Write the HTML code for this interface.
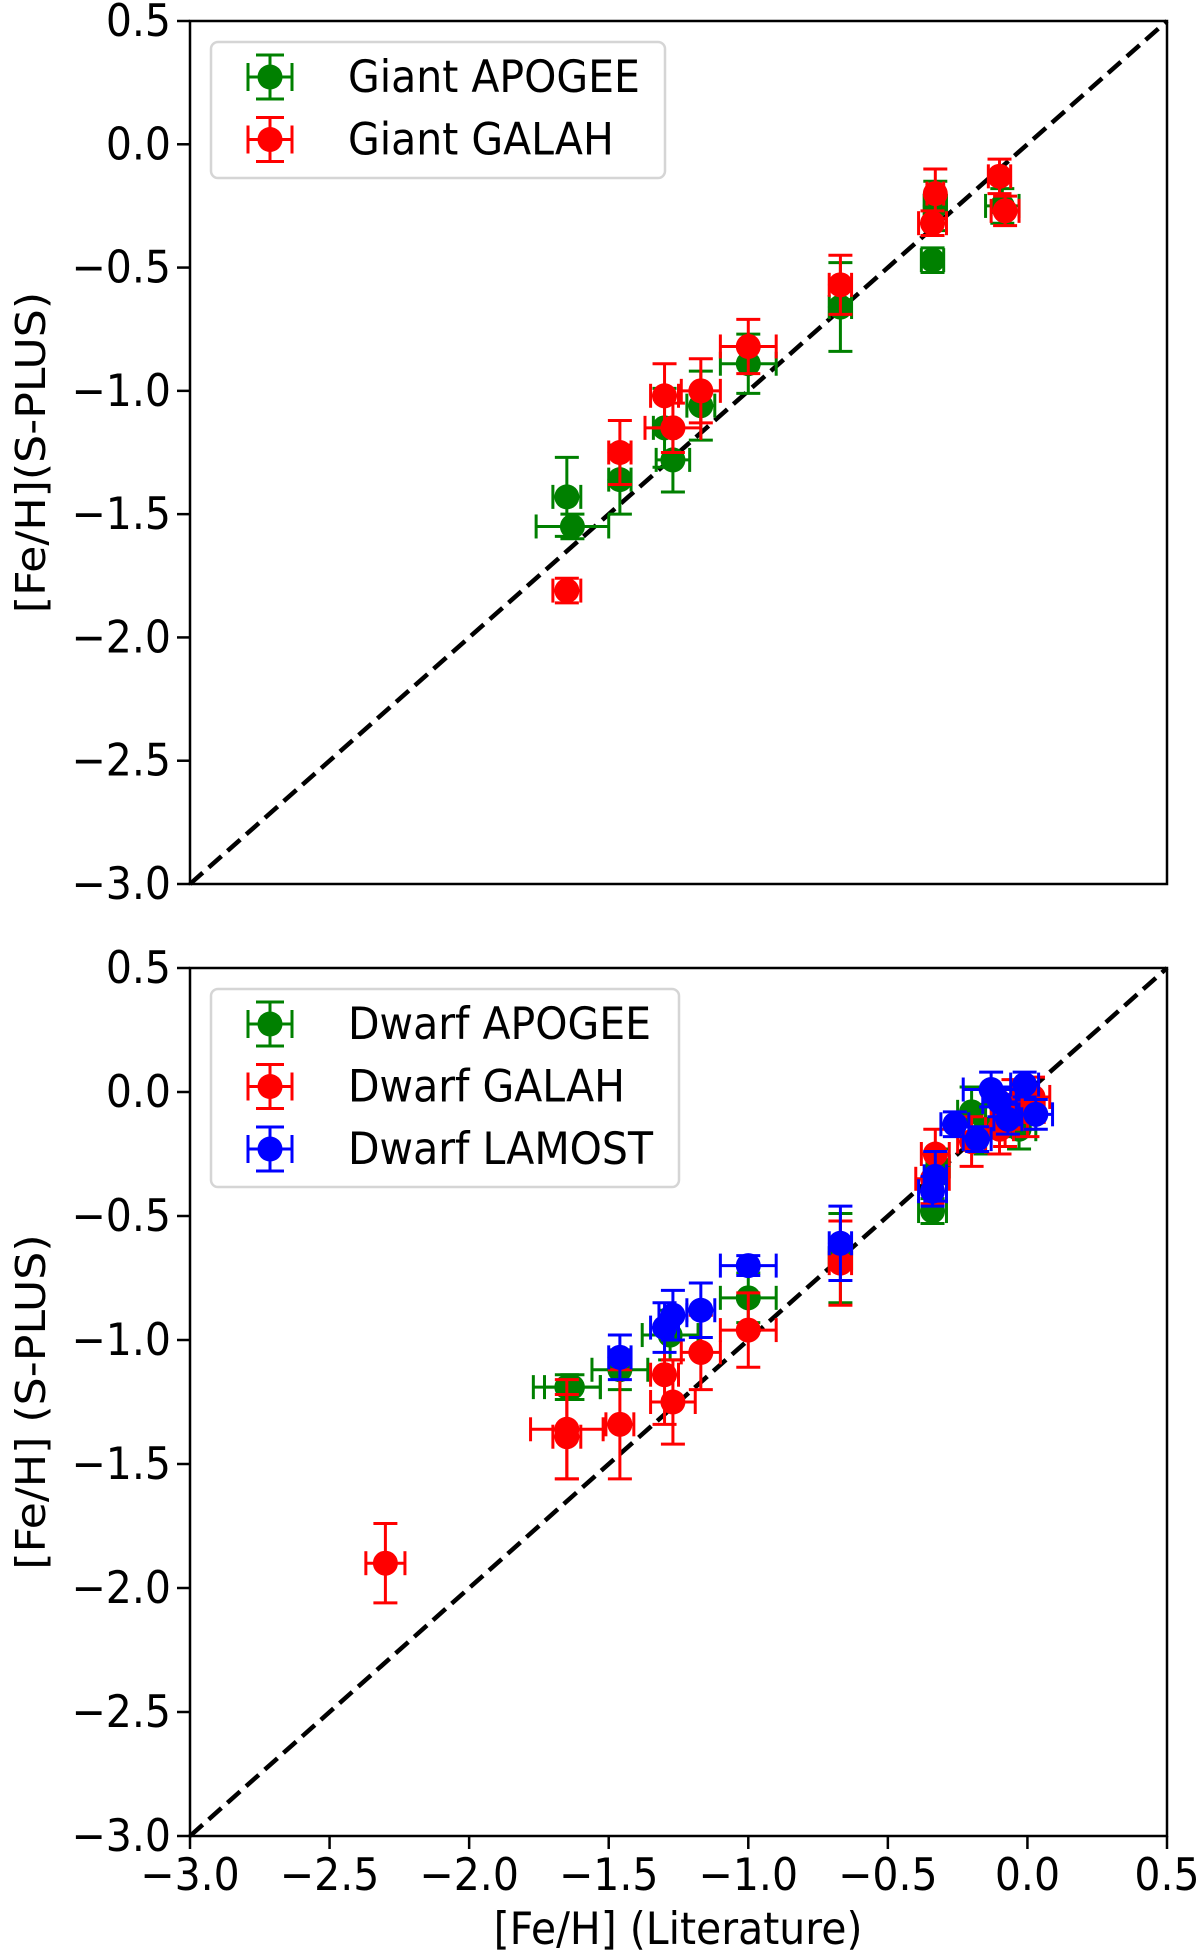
<!DOCTYPE html>
<html><head><meta charset="utf-8"><style>
body{margin:0;background:#fff}
svg{display:block;font-family:"DejaVu Sans","Liberation Sans",sans-serif}
</style></head><body>
<svg id="fig" width="1200" height="1956" viewBox="0 0 1200 1956" xmlns="http://www.w3.org/2000/svg"></svg>
<script>
const xTicks=[-3.0,-2.5,-2.0,-1.5,-1.0,-0.5,0.0,0.5];
const yTicks=[-3.0,-2.5,-2.0,-1.5,-1.0,-0.5,0.0,0.5];
// Giant APOGEE: x, y, xerr, yerr
const gApoX=[-1.65,-1.63,-1.46,-1.30,-1.27,-1.17,-1.0,-0.67,-0.34,-0.33,-0.09];
const gApoY=[-1.43,-1.55,-1.36,-1.15,-1.28,-1.06,-0.89,-0.66,-0.47,-0.25,-0.25];
const gApoXe=[0.05,0.13,0.04,0.04,0.06,0.05,0.1,0.04,0.04,0.04,0.06];
const gApoYe=[0.16,0.05,0.14,0.16,0.13,0.14,0.12,0.18,0.05,0.1,0.07];
const gGalX=[-1.65,-1.46,-1.30,-1.27,-1.17,-1.0,-0.67,-0.34,-0.33,-0.10,-0.08];
const gGalY=[-1.81,-1.25,-1.02,-1.15,-1.0,-0.82,-0.57,-0.32,-0.2,-0.13,-0.27];
const gGalXe=[0.05,0.04,0.05,0.1,0.07,0.1,0.04,0.05,0.03,0.04,0.05];
const gGalYe=[0.05,0.13,0.13,0.1,0.13,0.11,0.12,0.05,0.1,0.07,0.06];
const dApoX=[-1.65,-1.63,-1.46,-1.28,-1.0,-0.67,-0.34,-0.32,-0.2,-0.15,-0.05,-0.03,0.0];
const dApoY=[-1.19,-1.19,-1.12,-0.98,-0.83,-0.67,-0.48,-0.3,-0.08,-0.15,-0.1,-0.15,-0.05];
const dApoXe=[0.12,0.1,0.1,0.1,0.1,0.04,0.05,0.04,0.05,0.05,0.06,0.06,0.05];
const dApoYe=[0.05,0.05,0.08,0.1,0.1,0.18,0.05,0.07,0.1,0.1,0.08,0.08,0.08];
const dGalX=[-2.3,-1.65,-1.65,-1.46,-1.30,-1.27,-1.17,-1.0,-0.67,-0.33,-0.34,-0.2,-0.1,-0.05,0.0,0.02,-0.08];
const dGalY=[-1.9,-1.36,-1.39,-1.34,-1.14,-1.25,-1.05,-0.96,-0.69,-0.25,-0.35,-0.2,-0.15,-0.05,-0.08,-0.02,-0.1];
const dGalXe=[0.07,0.13,0.05,0.05,0.05,0.08,0.07,0.1,0.04,0.05,0.06,0.05,0.05,0.05,0.06,0.06,0.05];
const dGalYe=[0.16,0.2,0.17,0.22,0.2,0.17,0.15,0.15,0.17,0.1,0.1,0.1,0.1,0.1,0.1,0.08,0.12];
const dLamX=[-1.46,-1.30,-1.27,-1.17,-1.0,-0.67,-0.34,-0.33,-0.26,-0.18,-0.13,-0.1,-0.07,-0.01,0.03];
const dLamY=[-1.07,-0.95,-0.9,-0.88,-0.7,-0.61,-0.4,-0.34,-0.13,-0.19,0.01,-0.04,-0.11,0.03,-0.09];
const dLamXe=[0.04,0.05,0.05,0.05,0.1,0.04,0.05,0.04,0.05,0.05,0.1,0.06,0.05,0.05,0.06];
const dLamYe=[0.09,0.1,0.1,0.11,0.04,0.15,0.06,0.1,0.05,0.05,0.07,0.06,0.06,0.05,0.06];

const NS="http://www.w3.org/2000/svg";
const svg=document.getElementById('fig');
function mk(tag,attrs,parent){const e=document.createElementNS(NS,tag);for(const k in attrs)e.setAttribute(k,attrs[k]);(parent||svg).appendChild(e);return e;}
function txt(x,y,str,anchor,parent,rot){
  const t=mk('text',{x:0,y:0,'font-size':41,'text-anchor':anchor,
    transform:rot?`translate(${x},${y}) rotate(-90) scale(1.08,1)`:`translate(${x},${y}) scale(1,1.08)`},parent);
  t.textContent=str;return t;
}
const L=190,R=1167;
function panel(name,top,bot,series,legend,ylab,showXLabels){
  const g=mk('g',{});
  
  
  const sx=v=>L+(v+3)/3.5*(R-L);
  const sy=v=>bot-(v+3)/3.5*(bot-top);
  const d=mk('line',{x1:sx(-3),y1:sy(-3),x2:sx(0.5),y2:sy(0.5),stroke:'#000','stroke-width':4.5,'stroke-dasharray':'17,8'},g);
  
  
  series.forEach(s=>{
    const sg=mk('g',{},g);
    
    
    s.x.forEach((xv,i)=>{
      const cx=sx(xv),cy=sy(s.y[i]);
      const x1=sx(xv-s.xe[i]),x2=sx(xv+s.xe[i]),y1=sy(s.y[i]+s.ye[i]),y2=sy(s.y[i]-s.ye[i]);
      const c=s.c,w=3,cap=12;
      mk('line',{x1:x1,y1:cy,x2:x2,y2:cy,stroke:c,'stroke-width':w},sg);
      mk('line',{x1:cx,y1:y1,x2:cx,y2:y2,stroke:c,'stroke-width':w},sg);
      mk('line',{x1:x1,y1:cy-cap,x2:x1,y2:cy+cap,stroke:c,'stroke-width':w},sg);
      mk('line',{x1:x2,y1:cy-cap,x2:x2,y2:cy+cap,stroke:c,'stroke-width':w},sg);
      mk('line',{x1:cx-cap,y1:y1,x2:cx+cap,y2:y1,stroke:c,'stroke-width':w},sg);
      mk('line',{x1:cx-cap,y1:y2,x2:cx+cap,y2:y2,stroke:c,'stroke-width':w},sg);
      const p=mk('circle',{cx:cx,cy:cy,r:12.5,fill:c},sg);
      
      
    });
  });
  const f=mk('rect',{x:L,y:top,width:R-L,height:bot-top,fill:'none',stroke:'#000','stroke-width':2.5},g);
  
  
  yTicks.forEach(t=>{
    mk('line',{x1:L-13,y1:sy(t),x2:L,y2:sy(t),stroke:'#000','stroke-width':2.5},g);
    const tx=txt(L-19,sy(t)+15,(t<0?'\u2212':'')+Math.abs(t).toFixed(1),'end',g);
    
    
  });
  if(showXLabels){
    xTicks.forEach(t=>{
      mk('line',{x1:sx(t),y1:bot,x2:sx(t),y2:bot+13,stroke:'#000','stroke-width':2.5},g);
      const tx=txt(sx(t),bot+54,(t<0?'\u2212':'')+Math.abs(t).toFixed(1),'middle',g);
      
      
    });
  }
  const yl=txt(45,(top+bot)/2,ylab,'middle',g,true);
  
  
  const lg=mk('g',{},g);
  
  
  mk('rect',{x:211,y:top+21,width:legend.w,height:legend.h,rx:7,fill:'#fff',stroke:'#d5d5d5','stroke-width':2.5},lg);
  series.forEach((s,i)=>{
    const cy=top+56+i*62.5,cx=270,c=s.c;
    const e=mk('g',{},lg);
    
    
    mk('line',{x1:cx-22,y1:cy,x2:cx+22,y2:cy,stroke:c,'stroke-width':3},e);
    mk('line',{x1:cx,y1:cy-22,x2:cx,y2:cy+22,stroke:c,'stroke-width':3},e);
    mk('line',{x1:cx-22,y1:cy-14,x2:cx-22,y2:cy+14,stroke:c,'stroke-width':3},e);
    mk('line',{x1:cx+22,y1:cy-14,x2:cx+22,y2:cy+14,stroke:c,'stroke-width':3},e);
    mk('line',{x1:cx-14,y1:cy-22,x2:cx+14,y2:cy-22,stroke:c,'stroke-width':3},e);
    mk('line',{x1:cx-14,y1:cy+22,x2:cx+14,y2:cy+22,stroke:c,'stroke-width':3},e);
    mk('circle',{cx:cx,cy:cy,r:12.5,fill:c},e);
    txt(348,cy+15,s.label,'start',e);
  });
}
panel('giant-panel',21,884,[
  {name:'giant-apogee-series',label:'Giant APOGEE',c:'#008000',x:gApoX,y:gApoY,xe:gApoXe,ye:gApoYe},
  {name:'giant-galah-series',label:'Giant GALAH',c:'#ff0000',x:gGalX,y:gGalY,xe:gGalXe,ye:gGalYe}
],{w:454,h:136},'[Fe/H](S-PLUS)',false);
panel('dwarf-panel',968,1836,[
  {name:'dwarf-apogee-series',label:'Dwarf APOGEE',c:'#008000',x:dApoX,y:dApoY,xe:dApoXe,ye:dApoYe},
  {name:'dwarf-galah-series',label:'Dwarf GALAH',c:'#ff0000',x:dGalX,y:dGalY,xe:dGalXe,ye:dGalYe},
  {name:'dwarf-lamost-series',label:'Dwarf LAMOST',c:'#0000ff',x:dLamX,y:dLamY,xe:dLamXe,ye:dLamYe}
],{w:468,h:198},'[Fe/H] (S-PLUS)',true);
const xl=txt(678,1944,'[Fe/H] (Literature)','middle');


</script>
</body></html>
